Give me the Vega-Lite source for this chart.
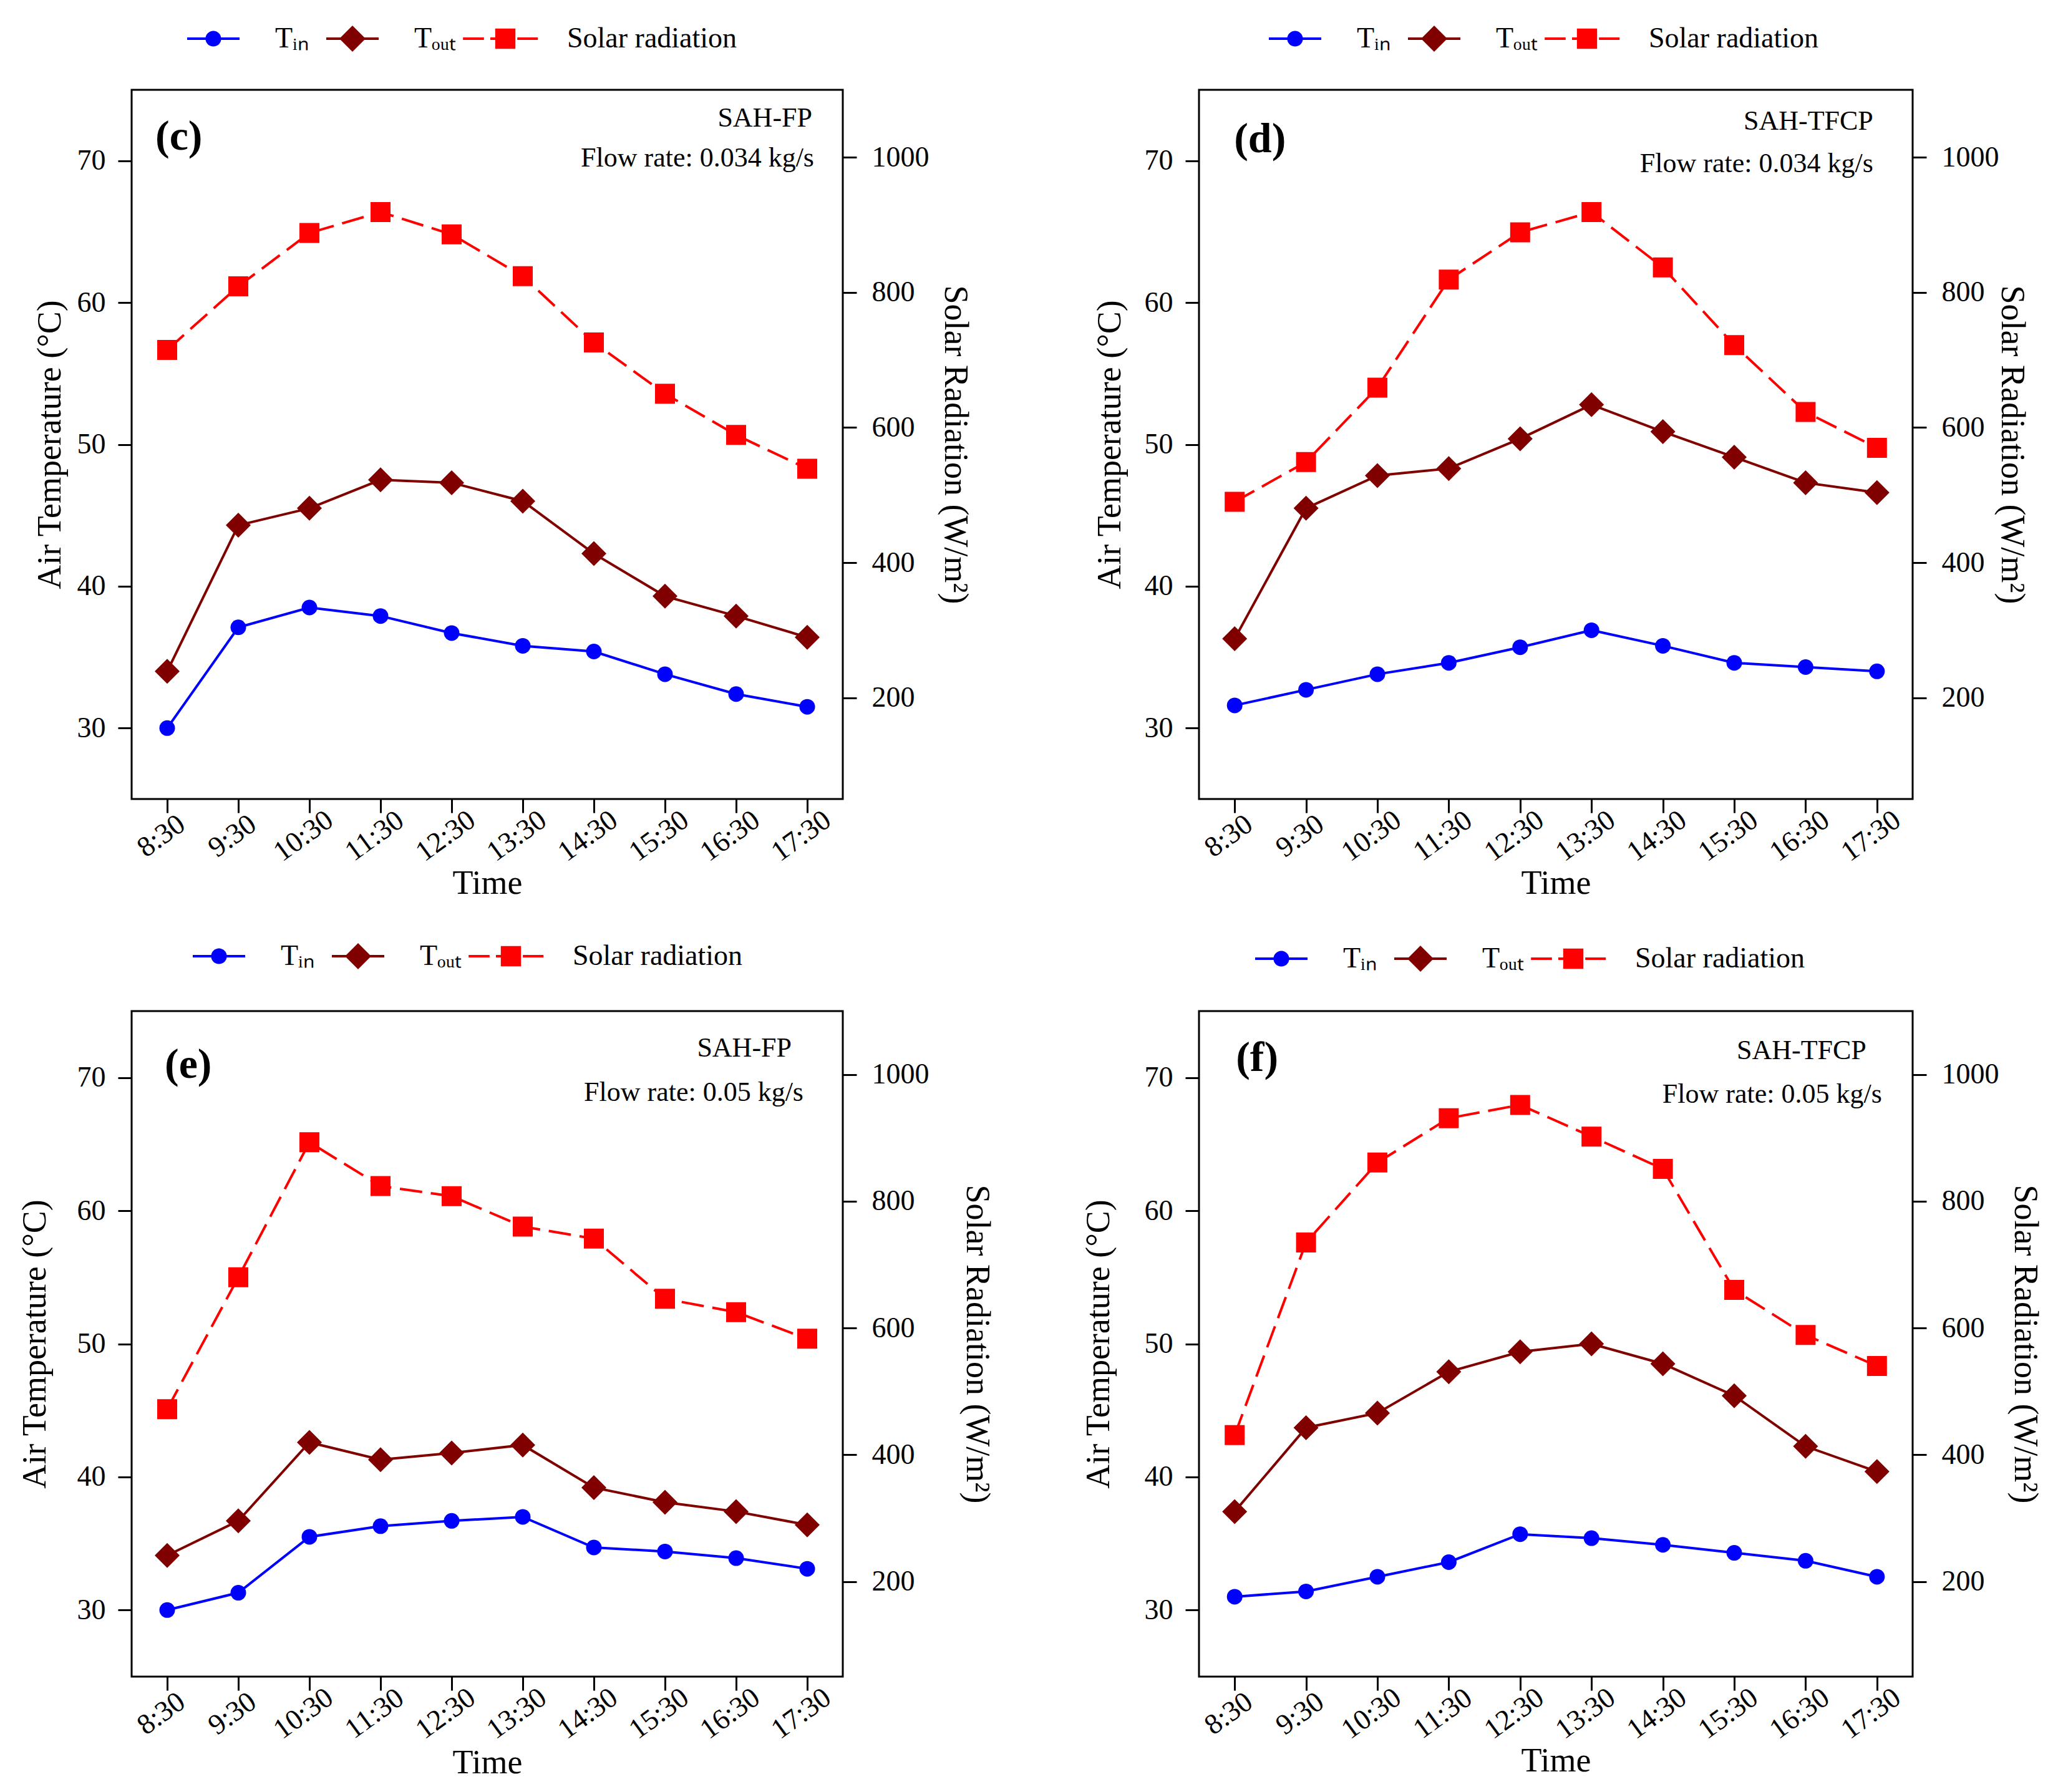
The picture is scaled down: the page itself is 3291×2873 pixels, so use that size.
{
  "$schema": "https://vega.github.io/schema/vega-lite/v6.json",
  "background": "white",
  "padding": {"left": 27, "top": 0, "right": 10, "bottom": 4},
  "datasets": {
    "c": [
      {"time": "8:30", "series": "Tin", "value": 30.0}, {"time": "9:30", "series": "Tin", "value": 37.1}, {"time": "10:30", "series": "Tin", "value": 38.5}, {"time": "11:30", "series": "Tin", "value": 37.9}, {"time": "12:30", "series": "Tin", "value": 36.7},
      {"time": "13:30", "series": "Tin", "value": 35.8}, {"time": "14:30", "series": "Tin", "value": 35.4}, {"time": "15:30", "series": "Tin", "value": 33.8}, {"time": "16:30", "series": "Tin", "value": 32.4}, {"time": "17:30", "series": "Tin", "value": 31.5},
      {"time": "8:30", "series": "Tout", "value": 34.0}, {"time": "9:30", "series": "Tout", "value": 44.3}, {"time": "10:30", "series": "Tout", "value": 45.5}, {"time": "11:30", "series": "Tout", "value": 47.5}, {"time": "12:30", "series": "Tout", "value": 47.3},
      {"time": "13:30", "series": "Tout", "value": 46.0}, {"time": "14:30", "series": "Tout", "value": 42.3}, {"time": "15:30", "series": "Tout", "value": 39.3}, {"time": "16:30", "series": "Tout", "value": 37.9}, {"time": "17:30", "series": "Tout", "value": 36.4},
      {"time": "8:30", "series": "Solar radiation", "value": 715}, {"time": "9:30", "series": "Solar radiation", "value": 809}, {"time": "10:30", "series": "Solar radiation", "value": 888}, {"time": "11:30", "series": "Solar radiation", "value": 919}, {"time": "12:30", "series": "Solar radiation", "value": 886},
      {"time": "13:30", "series": "Solar radiation", "value": 824}, {"time": "14:30", "series": "Solar radiation", "value": 726}, {"time": "15:30", "series": "Solar radiation", "value": 650}, {"time": "16:30", "series": "Solar radiation", "value": 589}, {"time": "17:30", "series": "Solar radiation", "value": 539}
    ],
    "d": [
      {"time": "8:30", "series": "Tin", "value": 31.6}, {"time": "9:30", "series": "Tin", "value": 32.7}, {"time": "10:30", "series": "Tin", "value": 33.8}, {"time": "11:30", "series": "Tin", "value": 34.6}, {"time": "12:30", "series": "Tin", "value": 35.7},
      {"time": "13:30", "series": "Tin", "value": 36.9}, {"time": "14:30", "series": "Tin", "value": 35.8}, {"time": "15:30", "series": "Tin", "value": 34.6}, {"time": "16:30", "series": "Tin", "value": 34.3}, {"time": "17:30", "series": "Tin", "value": 34.0},
      {"time": "8:30", "series": "Tout", "value": 36.3}, {"time": "9:30", "series": "Tout", "value": 45.5}, {"time": "10:30", "series": "Tout", "value": 47.8}, {"time": "11:30", "series": "Tout", "value": 48.3}, {"time": "12:30", "series": "Tout", "value": 50.4},
      {"time": "13:30", "series": "Tout", "value": 52.8}, {"time": "14:30", "series": "Tout", "value": 50.9}, {"time": "15:30", "series": "Tout", "value": 49.1}, {"time": "16:30", "series": "Tout", "value": 47.3}, {"time": "17:30", "series": "Tout", "value": 46.6},
      {"time": "8:30", "series": "Solar radiation", "value": 490}, {"time": "9:30", "series": "Solar radiation", "value": 549}, {"time": "10:30", "series": "Solar radiation", "value": 659}, {"time": "11:30", "series": "Solar radiation", "value": 819}, {"time": "12:30", "series": "Solar radiation", "value": 889},
      {"time": "13:30", "series": "Solar radiation", "value": 919}, {"time": "14:30", "series": "Solar radiation", "value": 837}, {"time": "15:30", "series": "Solar radiation", "value": 722}, {"time": "16:30", "series": "Solar radiation", "value": 623}, {"time": "17:30", "series": "Solar radiation", "value": 570}
    ],
    "e": [
      {"time": "8:30", "series": "Tin", "value": 30.0}, {"time": "9:30", "series": "Tin", "value": 31.3}, {"time": "10:30", "series": "Tin", "value": 35.5}, {"time": "11:30", "series": "Tin", "value": 36.3}, {"time": "12:30", "series": "Tin", "value": 36.7},
      {"time": "13:30", "series": "Tin", "value": 37.0}, {"time": "14:30", "series": "Tin", "value": 34.7}, {"time": "15:30", "series": "Tin", "value": 34.4}, {"time": "16:30", "series": "Tin", "value": 33.9}, {"time": "17:30", "series": "Tin", "value": 33.1},
      {"time": "8:30", "series": "Tout", "value": 34.1}, {"time": "9:30", "series": "Tout", "value": 36.7}, {"time": "10:30", "series": "Tout", "value": 42.6}, {"time": "11:30", "series": "Tout", "value": 41.3}, {"time": "12:30", "series": "Tout", "value": 41.8},
      {"time": "13:30", "series": "Tout", "value": 42.4}, {"time": "14:30", "series": "Tout", "value": 39.2}, {"time": "15:30", "series": "Tout", "value": 38.1}, {"time": "16:30", "series": "Tout", "value": 37.4}, {"time": "17:30", "series": "Tout", "value": 36.4},
      {"time": "8:30", "series": "Solar radiation", "value": 472}, {"time": "9:30", "series": "Solar radiation", "value": 680}, {"time": "10:30", "series": "Solar radiation", "value": 893}, {"time": "11:30", "series": "Solar radiation", "value": 824}, {"time": "12:30", "series": "Solar radiation", "value": 808},
      {"time": "13:30", "series": "Solar radiation", "value": 760}, {"time": "14:30", "series": "Solar radiation", "value": 741}, {"time": "15:30", "series": "Solar radiation", "value": 646}, {"time": "16:30", "series": "Solar radiation", "value": 625}, {"time": "17:30", "series": "Solar radiation", "value": 583}
    ],
    "f": [
      {"time": "8:30", "series": "Tin", "value": 31.0}, {"time": "9:30", "series": "Tin", "value": 31.4}, {"time": "10:30", "series": "Tin", "value": 32.5}, {"time": "11:30", "series": "Tin", "value": 33.6}, {"time": "12:30", "series": "Tin", "value": 35.7},
      {"time": "13:30", "series": "Tin", "value": 35.4}, {"time": "14:30", "series": "Tin", "value": 34.9}, {"time": "15:30", "series": "Tin", "value": 34.3}, {"time": "16:30", "series": "Tin", "value": 33.7}, {"time": "17:30", "series": "Tin", "value": 32.5},
      {"time": "8:30", "series": "Tout", "value": 37.4}, {"time": "9:30", "series": "Tout", "value": 43.7}, {"time": "10:30", "series": "Tout", "value": 44.8}, {"time": "11:30", "series": "Tout", "value": 47.9}, {"time": "12:30", "series": "Tout", "value": 49.4},
      {"time": "13:30", "series": "Tout", "value": 50.0}, {"time": "14:30", "series": "Tout", "value": 48.5}, {"time": "15:30", "series": "Tout", "value": 46.1}, {"time": "16:30", "series": "Tout", "value": 42.3}, {"time": "17:30", "series": "Tout", "value": 40.4},
      {"time": "8:30", "series": "Solar radiation", "value": 431}, {"time": "9:30", "series": "Solar radiation", "value": 735}, {"time": "10:30", "series": "Solar radiation", "value": 861}, {"time": "11:30", "series": "Solar radiation", "value": 931}, {"time": "12:30", "series": "Solar radiation", "value": 952},
      {"time": "13:30", "series": "Solar radiation", "value": 902}, {"time": "14:30", "series": "Solar radiation", "value": 851}, {"time": "15:30", "series": "Solar radiation", "value": 660}, {"time": "16:30", "series": "Solar radiation", "value": 589}, {"time": "17:30", "series": "Solar radiation", "value": 540}
    ]
  },
  "columns": 2,
  "bounds": "flush",
  "spacing": {"row": 340, "column": 571},
  "resolve": {
    "scale": {"color": "independent", "shape": "independent"},
    "legend": {"color": "independent", "shape": "independent"}
  },
  "concat": [
    {
      "width": 1140, "height": 1137,
      "data": {"name": "c"},
      "resolve": {"scale": {"y": "independent"}},
      "layer": [
        {"layer": [
          {"transform": [{"filter": "datum.series == 'Tin'"}], "mark": {"type": "line", "color": "#0000ff", "strokeWidth": 4},
           "encoding": {
             "x": {"field": "time", "type": "ordinal", "title": "Time", "scale": {"type": "point", "padding": 0.5, "domain": ["8:30", "9:30", "10:30", "11:30", "12:30", "13:30", "14:30", "15:30", "16:30", "17:30"]},
                   "axis": {"labelAngle": -36, "labelAlign": "center", "labelBaseline": "middle", "labelPadding": 37, "labelOffset": -10, "titlePadding": 0, "labelOverlap": false}},
             "y": {"field": "value", "type": "quantitative", "title": "Air Temperature (°C)", "scale": {"domain": [25, 75], "nice": false, "zero": false},
                   "axis": {"orient": "left", "values": [30, 40, 50, 60, 70], "labelPadding": 20, "titlePadding": 16}}
           }},
          {"transform": [{"filter": "datum.series == 'Tout'"}], "mark": {"type": "line", "color": "#800000", "strokeWidth": 4},
           "encoding": {"x": {"field": "time", "type": "ordinal", "title": "Time"}, "y": {"field": "value", "type": "quantitative", "title": "Air Temperature (°C)"}}},
          {"transform": [{"filter": "datum.series == 'Tin'"}], "mark": {"type": "point", "shape": "circle", "filled": true, "opacity": 1, "size": 625, "color": "#0000ff"},
           "encoding": {"x": {"field": "time", "type": "ordinal", "title": "Time"}, "y": {"field": "value", "type": "quantitative", "title": "Air Temperature (°C)"}}},
          {"transform": [{"filter": "datum.series == 'Tout'"}], "mark": {"type": "point", "shape": "diamond", "filled": true, "opacity": 1, "size": 1600, "color": "#800000"},
           "encoding": {"x": {"field": "time", "type": "ordinal", "title": "Time"}, "y": {"field": "value", "type": "quantitative", "title": "Air Temperature (°C)"}}},
          {"transform": [{"filter": "false"}], "mark": {"type": "point", "filled": true, "opacity": 1},
           "encoding": {
             "x": {"field": "time", "type": "ordinal", "title": "Time"},
             "y": {"field": "value", "type": "quantitative", "title": "Air Temperature (°C)"},
             "color": {"field": "series", "type": "nominal",
                       "scale": {"domain": ["Tin", "Tout", "Solar radiation"], "range": ["#0000ff", "#800000", "#ff0000"]},
                       "legend": {"title": null, "legendX": 71, "legendY": -142, "labelExpr": "datum.label == 'Tin' ? 'Tᵢₙ' : datum.label == 'Tout' ? 'Tₒᵤₜ' : datum.label"}},
             "shape": {"field": "series", "type": "nominal",
                       "scale": {"domain": ["Tin", "Tout", "Solar radiation"], "range": [
                         "M-0.7,-0.035H-0.2V0.035H-0.7Z M0.2,-0.035H0.7V0.035H0.2Z M-0.21,0A0.21,0.21,0,1,1,0.21,0A0.21,0.21,0,1,1,-0.21,0Z",
                         "M-0.7,-0.035H-0.3V0.035H-0.7Z M0.3,-0.035H0.7V0.035H0.3Z M-0.35,0L0,-0.35L0.35,0L0,0.35Z",
                         "M-1.13,-0.035H-0.57V0.035H-1.13Z M-0.4,-0.035H-0.27V0.035H-0.4Z M0.32,-0.035H0.87V0.035H0.32Z M-0.27,-0.27H0.27V0.27H-0.27Z"]},
                       "legend": {"title": null, "legendX": 71, "legendY": -142, "labelExpr": "datum.label == 'Tin' ? 'Tᵢₙ' : datum.label == 'Tout' ? 'Tₒᵤₜ' : datum.label"}}
           }},
          {"data": {"values": [{}]}, "mark": {"type": "text", "text": "(c)", "fontSize": 68, "fontWeight": "bold", "align": "left", "baseline": "alphabetic", "fill": "black", "dx": -19},
           "encoding": {"x": {"datum": "8:30", "type": "ordinal", "title": "Time"}, "y": {"datum": 70.8, "type": "quantitative", "title": "Air Temperature (°C)"}}},
          {"data": {"values": [{}]}, "mark": {"type": "text", "text": "SAH-FP", "fontSize": 44, "align": "right", "baseline": "alphabetic", "fill": "black", "dx": 8},
           "encoding": {"x": {"datum": "17:30", "type": "ordinal", "title": "Time"}, "y": {"datum": 72.4, "type": "quantitative", "title": "Air Temperature (°C)"}}},
          {"data": {"values": [{}]}, "mark": {"type": "text", "text": "Flow rate: 0.034 kg/s", "fontSize": 44, "align": "right", "baseline": "alphabetic", "fill": "black", "dx": 11},
           "encoding": {"x": {"datum": "17:30", "type": "ordinal", "title": "Time"}, "y": {"datum": 69.6, "type": "quantitative", "title": "Air Temperature (°C)"}}}
        ]},
        {"layer": [
          {"transform": [{"filter": "datum.series == 'Solar radiation'"}], "mark": {"type": "line", "color": "#ff0000", "strokeWidth": 4, "strokeDash": [36, 14]},
           "encoding": {
             "x": {"field": "time", "type": "ordinal", "title": "Time"},
             "y": {"field": "value", "type": "quantitative", "title": "Solar Radiation (W/m²)", "scale": {"domain": [50, 1100], "nice": false, "zero": false},
                   "axis": {"orient": "right", "values": [200, 400, 600, 800, 1000], "format": "d", "labelPadding": 24, "titlePadding": 14}}
           }},
          {"transform": [{"filter": "datum.series == 'Solar radiation'"}], "mark": {"type": "point", "shape": "square", "filled": true, "opacity": 1, "size": 1024, "color": "#ff0000"},
           "encoding": {"x": {"field": "time", "type": "ordinal", "title": "Time"}, "y": {"field": "value", "type": "quantitative", "title": "Solar Radiation (W/m²)"}}}
        ]}
      ]
    },
    {
      "width": 1144, "height": 1137,
      "data": {"name": "d"},
      "resolve": {"scale": {"y": "independent"}},
      "layer": [
        {"layer": [
          {"transform": [{"filter": "datum.series == 'Tin'"}], "mark": {"type": "line", "color": "#0000ff", "strokeWidth": 4},
           "encoding": {
             "x": {"field": "time", "type": "ordinal", "title": "Time", "scale": {"type": "point", "padding": 0.5, "domain": ["8:30", "9:30", "10:30", "11:30", "12:30", "13:30", "14:30", "15:30", "16:30", "17:30"]},
                   "axis": {"labelAngle": -36, "labelAlign": "center", "labelBaseline": "middle", "labelPadding": 37, "labelOffset": -10, "titlePadding": 0, "labelOverlap": false}},
             "y": {"field": "value", "type": "quantitative", "title": "Air Temperature (°C)", "scale": {"domain": [25, 75], "nice": false, "zero": false},
                   "axis": {"orient": "left", "values": [30, 40, 50, 60, 70], "labelPadding": 20, "titlePadding": 28}}
           }},
          {"transform": [{"filter": "datum.series == 'Tout'"}], "mark": {"type": "line", "color": "#800000", "strokeWidth": 4},
           "encoding": {"x": {"field": "time", "type": "ordinal", "title": "Time"}, "y": {"field": "value", "type": "quantitative", "title": "Air Temperature (°C)"}}},
          {"transform": [{"filter": "datum.series == 'Tin'"}], "mark": {"type": "point", "shape": "circle", "filled": true, "opacity": 1, "size": 625, "color": "#0000ff"},
           "encoding": {"x": {"field": "time", "type": "ordinal", "title": "Time"}, "y": {"field": "value", "type": "quantitative", "title": "Air Temperature (°C)"}}},
          {"transform": [{"filter": "datum.series == 'Tout'"}], "mark": {"type": "point", "shape": "diamond", "filled": true, "opacity": 1, "size": 1600, "color": "#800000"},
           "encoding": {"x": {"field": "time", "type": "ordinal", "title": "Time"}, "y": {"field": "value", "type": "quantitative", "title": "Air Temperature (°C)"}}},
          {"transform": [{"filter": "false"}], "mark": {"type": "point", "filled": true, "opacity": 1},
           "encoding": {
             "x": {"field": "time", "type": "ordinal", "title": "Time"},
             "y": {"field": "value", "type": "quantitative", "title": "Air Temperature (°C)"},
             "color": {"field": "series", "type": "nominal",
                       "scale": {"domain": ["Tin", "Tout", "Solar radiation"], "range": ["#0000ff", "#800000", "#ff0000"]},
                       "legend": {"title": null, "legendX": 94, "legendY": -142, "labelExpr": "datum.label == 'Tin' ? 'Tᵢₙ' : datum.label == 'Tout' ? 'Tₒᵤₜ' : datum.label"}},
             "shape": {"field": "series", "type": "nominal",
                       "scale": {"domain": ["Tin", "Tout", "Solar radiation"], "range": [
                         "M-0.7,-0.035H-0.2V0.035H-0.7Z M0.2,-0.035H0.7V0.035H0.2Z M-0.21,0A0.21,0.21,0,1,1,0.21,0A0.21,0.21,0,1,1,-0.21,0Z",
                         "M-0.7,-0.035H-0.3V0.035H-0.7Z M0.3,-0.035H0.7V0.035H0.3Z M-0.35,0L0,-0.35L0.35,0L0,0.35Z",
                         "M-1.13,-0.035H-0.57V0.035H-1.13Z M-0.4,-0.035H-0.27V0.035H-0.4Z M0.32,-0.035H0.87V0.035H0.32Z M-0.27,-0.27H0.27V0.27H-0.27Z"]},
                       "legend": {"title": null, "legendX": 94, "legendY": -142, "labelExpr": "datum.label == 'Tin' ? 'Tᵢₙ' : datum.label == 'Tout' ? 'Tₒᵤₜ' : datum.label"}}
           }},
          {"data": {"values": [{}]}, "mark": {"type": "text", "text": "(d)", "fontSize": 68, "fontWeight": "bold", "align": "left", "baseline": "alphabetic", "fill": "black", "dx": -1},
           "encoding": {"x": {"datum": "8:30", "type": "ordinal", "title": "Time"}, "y": {"datum": 70.6, "type": "quantitative", "title": "Air Temperature (°C)"}}},
          {"data": {"values": [{}]}, "mark": {"type": "text", "text": "SAH-TFCP", "fontSize": 44, "align": "right", "baseline": "alphabetic", "fill": "black", "dx": -6},
           "encoding": {"x": {"datum": "17:30", "type": "ordinal", "title": "Time"}, "y": {"datum": 72.2, "type": "quantitative", "title": "Air Temperature (°C)"}}},
          {"data": {"values": [{}]}, "mark": {"type": "text", "text": "Flow rate: 0.034 kg/s", "fontSize": 44, "align": "right", "baseline": "alphabetic", "fill": "black", "dx": -6},
           "encoding": {"x": {"datum": "17:30", "type": "ordinal", "title": "Time"}, "y": {"datum": 69.2, "type": "quantitative", "title": "Air Temperature (°C)"}}}
        ]},
        {"layer": [
          {"transform": [{"filter": "datum.series == 'Solar radiation'"}], "mark": {"type": "line", "color": "#ff0000", "strokeWidth": 4, "strokeDash": [36, 14]},
           "encoding": {
             "x": {"field": "time", "type": "ordinal", "title": "Time"},
             "y": {"field": "value", "type": "quantitative", "title": "Solar Radiation (W/m²)", "scale": {"domain": [50, 1100], "nice": false, "zero": false},
                   "axis": {"orient": "right", "values": [200, 400, 600, 800, 1000], "format": "d", "labelPadding": 24, "titlePadding": -7}}
           }},
          {"transform": [{"filter": "datum.series == 'Solar radiation'"}], "mark": {"type": "point", "shape": "square", "filled": true, "opacity": 1, "size": 1024, "color": "#ff0000"},
           "encoding": {"x": {"field": "time", "type": "ordinal", "title": "Time"}, "y": {"field": "value", "type": "quantitative", "title": "Solar Radiation (W/m²)"}}}
        ]}
      ]
    },
    {
      "width": 1140, "height": 1067,
      "data": {"name": "e"},
      "resolve": {"scale": {"y": "independent"}},
      "layer": [
        {"layer": [
          {"transform": [{"filter": "datum.series == 'Tin'"}], "mark": {"type": "line", "color": "#0000ff", "strokeWidth": 4},
           "encoding": {
             "x": {"field": "time", "type": "ordinal", "title": "Time", "scale": {"type": "point", "padding": 0.5, "domain": ["8:30", "9:30", "10:30", "11:30", "12:30", "13:30", "14:30", "15:30", "16:30", "17:30"]},
                   "axis": {"labelAngle": -36, "labelAlign": "center", "labelBaseline": "middle", "labelPadding": 37, "labelOffset": -10, "titlePadding": 3, "labelOverlap": false}},
             "y": {"field": "value", "type": "quantitative", "title": "Air Temperature (°C)", "scale": {"domain": [25, 75], "nice": false, "zero": false},
                   "axis": {"orient": "left", "values": [30, 40, 50, 60, 70], "labelPadding": 20, "titlePadding": 40}}
           }},
          {"transform": [{"filter": "datum.series == 'Tout'"}], "mark": {"type": "line", "color": "#800000", "strokeWidth": 4},
           "encoding": {"x": {"field": "time", "type": "ordinal", "title": "Time"}, "y": {"field": "value", "type": "quantitative", "title": "Air Temperature (°C)"}}},
          {"transform": [{"filter": "datum.series == 'Tin'"}], "mark": {"type": "point", "shape": "circle", "filled": true, "opacity": 1, "size": 625, "color": "#0000ff"},
           "encoding": {"x": {"field": "time", "type": "ordinal", "title": "Time"}, "y": {"field": "value", "type": "quantitative", "title": "Air Temperature (°C)"}}},
          {"transform": [{"filter": "datum.series == 'Tout'"}], "mark": {"type": "point", "shape": "diamond", "filled": true, "opacity": 1, "size": 1600, "color": "#800000"},
           "encoding": {"x": {"field": "time", "type": "ordinal", "title": "Time"}, "y": {"field": "value", "type": "quantitative", "title": "Air Temperature (°C)"}}},
          {"transform": [{"filter": "false"}], "mark": {"type": "point", "filled": true, "opacity": 1},
           "encoding": {
             "x": {"field": "time", "type": "ordinal", "title": "Time"},
             "y": {"field": "value", "type": "quantitative", "title": "Air Temperature (°C)"},
             "color": {"field": "series", "type": "nominal",
                       "scale": {"domain": ["Tin", "Tout", "Solar radiation"], "range": ["#0000ff", "#800000", "#ff0000"]},
                       "legend": {"title": null, "legendX": 80, "legendY": -148, "labelExpr": "datum.label == 'Tin' ? 'Tᵢₙ' : datum.label == 'Tout' ? 'Tₒᵤₜ' : datum.label"}},
             "shape": {"field": "series", "type": "nominal",
                       "scale": {"domain": ["Tin", "Tout", "Solar radiation"], "range": [
                         "M-0.7,-0.035H-0.2V0.035H-0.7Z M0.2,-0.035H0.7V0.035H0.2Z M-0.21,0A0.21,0.21,0,1,1,0.21,0A0.21,0.21,0,1,1,-0.21,0Z",
                         "M-0.7,-0.035H-0.3V0.035H-0.7Z M0.3,-0.035H0.7V0.035H0.3Z M-0.35,0L0,-0.35L0.35,0L0,0.35Z",
                         "M-1.13,-0.035H-0.57V0.035H-1.13Z M-0.4,-0.035H-0.27V0.035H-0.4Z M0.32,-0.035H0.87V0.035H0.32Z M-0.27,-0.27H0.27V0.27H-0.27Z"]},
                       "legend": {"title": null, "legendX": 80, "legendY": -148, "labelExpr": "datum.label == 'Tin' ? 'Tᵢₙ' : datum.label == 'Tout' ? 'Tₒᵤₜ' : datum.label"}}
           }},
          {"data": {"values": [{}]}, "mark": {"type": "text", "text": "(e)", "fontSize": 68, "fontWeight": "bold", "align": "left", "baseline": "alphabetic", "fill": "black", "dx": -4},
           "encoding": {"x": {"datum": "8:30", "type": "ordinal", "title": "Time"}, "y": {"datum": 70.0, "type": "quantitative", "title": "Air Temperature (°C)"}}},
          {"data": {"values": [{}]}, "mark": {"type": "text", "text": "SAH-FP", "fontSize": 44, "align": "right", "baseline": "alphabetic", "fill": "black", "dx": -25},
           "encoding": {"x": {"datum": "17:30", "type": "ordinal", "title": "Time"}, "y": {"datum": 71.6, "type": "quantitative", "title": "Air Temperature (°C)"}}},
          {"data": {"values": [{}]}, "mark": {"type": "text", "text": "Flow rate: 0.05 kg/s", "fontSize": 44, "align": "right", "baseline": "alphabetic", "fill": "black", "dx": -6},
           "encoding": {"x": {"datum": "17:30", "type": "ordinal", "title": "Time"}, "y": {"datum": 68.25, "type": "quantitative", "title": "Air Temperature (°C)"}}}
        ]},
        {"layer": [
          {"transform": [{"filter": "datum.series == 'Solar radiation'"}], "mark": {"type": "line", "color": "#ff0000", "strokeWidth": 4, "strokeDash": [36, 14]},
           "encoding": {
             "x": {"field": "time", "type": "ordinal", "title": "Time"},
             "y": {"field": "value", "type": "quantitative", "title": "Solar Radiation (W/m²)", "scale": {"domain": [50, 1100], "nice": false, "zero": false},
                   "axis": {"orient": "right", "values": [200, 400, 600, 800, 1000], "format": "d", "labelPadding": 24, "titlePadding": 49}}
           }},
          {"transform": [{"filter": "datum.series == 'Solar radiation'"}], "mark": {"type": "point", "shape": "square", "filled": true, "opacity": 1, "size": 1024, "color": "#ff0000"},
           "encoding": {"x": {"field": "time", "type": "ordinal", "title": "Time"}, "y": {"field": "value", "type": "quantitative", "title": "Solar Radiation (W/m²)"}}}
        ]}
      ]
    },
    {
      "width": 1144, "height": 1067,
      "data": {"name": "f"},
      "resolve": {"scale": {"y": "independent"}},
      "layer": [
        {"layer": [
          {"transform": [{"filter": "datum.series == 'Tin'"}], "mark": {"type": "line", "color": "#0000ff", "strokeWidth": 4},
           "encoding": {
             "x": {"field": "time", "type": "ordinal", "title": "Time", "scale": {"type": "point", "padding": 0.5, "domain": ["8:30", "9:30", "10:30", "11:30", "12:30", "13:30", "14:30", "15:30", "16:30", "17:30"]},
                   "axis": {"labelAngle": -36, "labelAlign": "center", "labelBaseline": "middle", "labelPadding": 37, "labelOffset": -10, "titlePadding": 0, "labelOverlap": false}},
             "y": {"field": "value", "type": "quantitative", "title": "Air Temperature (°C)", "scale": {"domain": [25, 75], "nice": false, "zero": false},
                   "axis": {"orient": "left", "values": [30, 40, 50, 60, 70], "labelPadding": 20, "titlePadding": 46}}
           }},
          {"transform": [{"filter": "datum.series == 'Tout'"}], "mark": {"type": "line", "color": "#800000", "strokeWidth": 4},
           "encoding": {"x": {"field": "time", "type": "ordinal", "title": "Time"}, "y": {"field": "value", "type": "quantitative", "title": "Air Temperature (°C)"}}},
          {"transform": [{"filter": "datum.series == 'Tin'"}], "mark": {"type": "point", "shape": "circle", "filled": true, "opacity": 1, "size": 625, "color": "#0000ff"},
           "encoding": {"x": {"field": "time", "type": "ordinal", "title": "Time"}, "y": {"field": "value", "type": "quantitative", "title": "Air Temperature (°C)"}}},
          {"transform": [{"filter": "datum.series == 'Tout'"}], "mark": {"type": "point", "shape": "diamond", "filled": true, "opacity": 1, "size": 1600, "color": "#800000"},
           "encoding": {"x": {"field": "time", "type": "ordinal", "title": "Time"}, "y": {"field": "value", "type": "quantitative", "title": "Air Temperature (°C)"}}},
          {"transform": [{"filter": "false"}], "mark": {"type": "point", "filled": true, "opacity": 1},
           "encoding": {
             "x": {"field": "time", "type": "ordinal", "title": "Time"},
             "y": {"field": "value", "type": "quantitative", "title": "Air Temperature (°C)"},
             "color": {"field": "series", "type": "nominal",
                       "scale": {"domain": ["Tin", "Tout", "Solar radiation"], "range": ["#0000ff", "#800000", "#ff0000"]},
                       "legend": {"title": null, "legendX": 72, "legendY": -144, "labelExpr": "datum.label == 'Tin' ? 'Tᵢₙ' : datum.label == 'Tout' ? 'Tₒᵤₜ' : datum.label"}},
             "shape": {"field": "series", "type": "nominal",
                       "scale": {"domain": ["Tin", "Tout", "Solar radiation"], "range": [
                         "M-0.7,-0.035H-0.2V0.035H-0.7Z M0.2,-0.035H0.7V0.035H0.2Z M-0.21,0A0.21,0.21,0,1,1,0.21,0A0.21,0.21,0,1,1,-0.21,0Z",
                         "M-0.7,-0.035H-0.3V0.035H-0.7Z M0.3,-0.035H0.7V0.035H0.3Z M-0.35,0L0,-0.35L0.35,0L0,0.35Z",
                         "M-1.13,-0.035H-0.57V0.035H-1.13Z M-0.4,-0.035H-0.27V0.035H-0.4Z M0.32,-0.035H0.87V0.035H0.32Z M-0.27,-0.27H0.27V0.27H-0.27Z"]},
                       "legend": {"title": null, "legendX": 72, "legendY": -144, "labelExpr": "datum.label == 'Tin' ? 'Tᵢₙ' : datum.label == 'Tout' ? 'Tₒᵤₜ' : datum.label"}}
           }},
          {"data": {"values": [{}]}, "mark": {"type": "text", "text": "(f)", "fontSize": 68, "fontWeight": "bold", "align": "left", "baseline": "alphabetic", "fill": "black", "dx": 2},
           "encoding": {"x": {"datum": "8:30", "type": "ordinal", "title": "Time"}, "y": {"datum": 70.5, "type": "quantitative", "title": "Air Temperature (°C)"}}},
          {"data": {"values": [{}]}, "mark": {"type": "text", "text": "SAH-TFCP", "fontSize": 44, "align": "right", "baseline": "alphabetic", "fill": "black", "dx": -17},
           "encoding": {"x": {"datum": "17:30", "type": "ordinal", "title": "Time"}, "y": {"datum": 71.4, "type": "quantitative", "title": "Air Temperature (°C)"}}},
          {"data": {"values": [{}]}, "mark": {"type": "text", "text": "Flow rate: 0.05 kg/s", "fontSize": 44, "align": "right", "baseline": "alphabetic", "fill": "black", "dx": 8},
           "encoding": {"x": {"datum": "17:30", "type": "ordinal", "title": "Time"}, "y": {"datum": 68.1, "type": "quantitative", "title": "Air Temperature (°C)"}}}
        ]},
        {"layer": [
          {"transform": [{"filter": "datum.series == 'Solar radiation'"}], "mark": {"type": "line", "color": "#ff0000", "strokeWidth": 4, "strokeDash": [36, 14]},
           "encoding": {
             "x": {"field": "time", "type": "ordinal", "title": "Time"},
             "y": {"field": "value", "type": "quantitative", "title": "Solar Radiation (W/m²)", "scale": {"domain": [50, 1100], "nice": false, "zero": false},
                   "axis": {"orient": "right", "values": [200, 400, 600, 800, 1000], "format": "d", "labelPadding": 24, "titlePadding": 14}}
           }},
          {"transform": [{"filter": "datum.series == 'Solar radiation'"}], "mark": {"type": "point", "shape": "square", "filled": true, "opacity": 1, "size": 1024, "color": "#ff0000"},
           "encoding": {"x": {"field": "time", "type": "ordinal", "title": "Time"}, "y": {"field": "value", "type": "quantitative", "title": "Solar Radiation (W/m²)"}}}
        ]}
      ]
    }
  ],
  "config": {
    "font": "Liberation Serif",
    "view": {"stroke": "black", "strokeWidth": 3},
    "axis": {
      "domain": false, "grid": false, "ticks": true,
      "tickColor": "black", "tickWidth": 3, "tickSize": 22,
      "labelFont": "Liberation Serif", "labelFontSize": 46, "labelColor": "black",
      "titleFont": "Liberation Serif", "titleFontSize": 54, "titleFontWeight": "normal", "titleColor": "black"
    },
    "legend": {
      "orient": "none", "direction": "horizontal",
      "symbolSize": 14400, "symbolStrokeWidth": 0, "symbolOpacity": 1,
      "labelFont": "Liberation Serif", "labelFontSize": 46, "labelColor": "black",
      "labelOffset": 39, "labelLimit": 0, "columnPadding": 10, "padding": 0
    }
  }
}
